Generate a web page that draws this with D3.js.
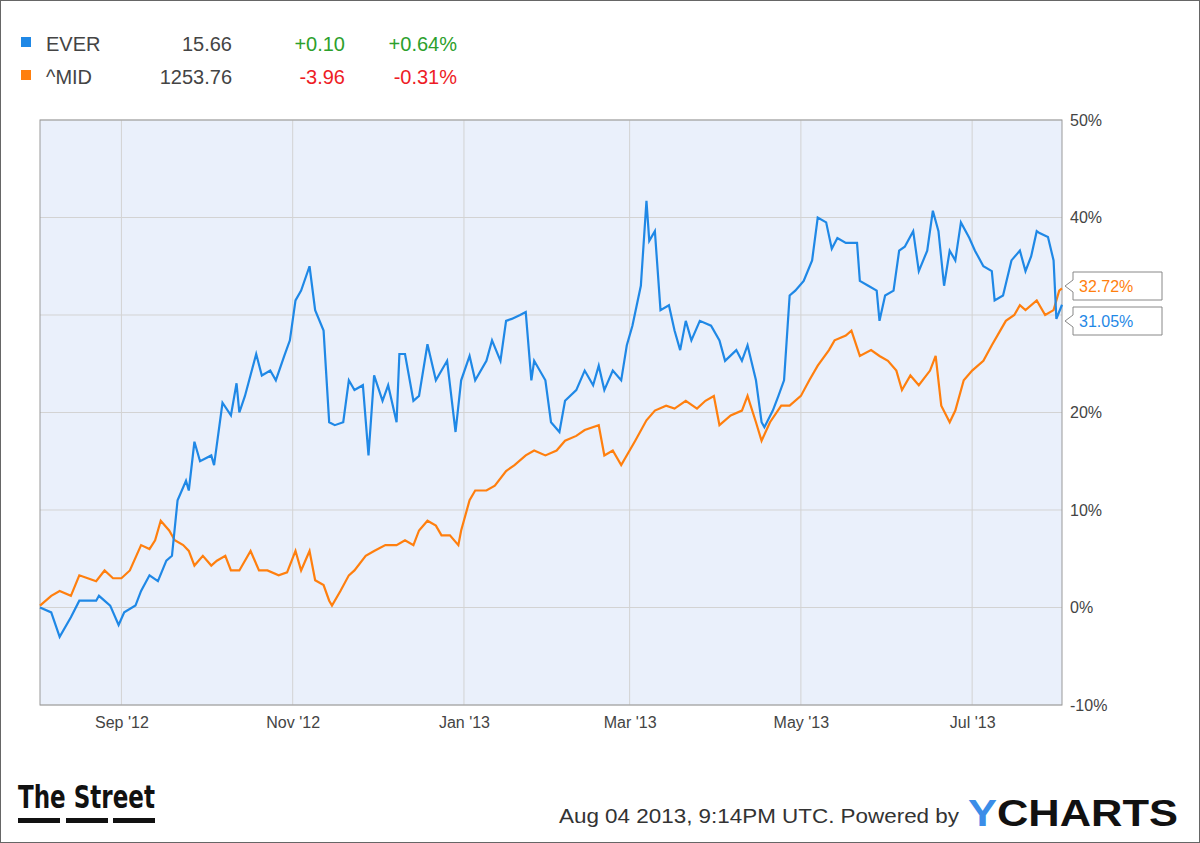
<!DOCTYPE html>
<html><head><meta charset="utf-8">
<script src="https://cdn.jsdelivr.net/npm/d3@7"></script>
<style>body{margin:0;background:#fff}svg{display:block}text{font-family:"Liberation Sans",Arial,sans-serif}</style>
</head><body><svg id="c" width="1200" height="843"></svg>
<script>
const startDate = "2012-08-03";
const everDays = [0,4,7,11,14,20,21,25,28,30,34,36,39,42,45,47,49,52,53,55,57,61,62,65,68,70,71,73,77,79,82,84,87,89,91,93,96,98,101,103,105,108,110,112,115,117,119,122,124,127,128,130,133,135,138,141,143,145,148,150,153,155,159,161,164,166,168,171,173,175,176,180,182,185,187,191,194,197,199,201,204,207,209,211,214,216,217,219,221,224,226,228,230,232,235,239,242,244,248,250,252,255,257,258,261,263,265,267,269,272,275,277,280,282,284,287,291,292,295,298,299,301,304,306,308,311,313,316,318,320,322,324,326,328,331,333,336,339,340,343,346,349,351,353,355,356,359,361,362,364];
const everVals = [0,-0.5,-3,-1,0.7,0.7,1.2,0.2,-1.8,-0.5,0.2,1.7,3.3,2.7,4.8,5.3,11,13,12,17,15,15.6,14.6,21,19.7,23,20,21.7,26,23.8,24.3,23.3,25.8,27.4,31.5,32.5,35,30.5,28.4,19,18.7,19,23.3,22.3,22.8,15.6,23.8,21.2,22.8,19,26,26,21.2,21.7,27,23.3,24.3,25.3,18,23.3,25.8,23.3,25.3,27.4,25.3,29.4,29.6,30,30.3,23.3,25.3,23.3,19,18,21.2,22.3,24.3,22.8,24.8,22.3,24.3,23.3,26.9,28.9,33,41.7,37.6,38.6,30.5,31,28.4,26.4,29.4,27.4,29.4,28.9,27.4,25.3,26.4,25.3,26.9,23.3,19,18.5,20.2,21.7,23.3,32,32.5,33.5,35.6,40,39.5,36.8,37.9,37.4,37.4,33.5,33,32.5,29.4,32,32.5,36.6,37,38.6,34.5,36.6,40.7,38.6,33,36.6,35.6,39.5,37.9,36.6,35,34.5,31.5,32,35.6,36.6,34.5,36,38.6,38.4,38,35.6,29.6,31.05];
const midDays = [0,4,7,11,14,17,20,23,26,29,32,36,39,41,43,46,48,51,53,55,58,61,63,66,68,71,75,78,81,85,88,91,93,96,98,101,103,104,107,110,112,116,119,123,127,130,133,135,138,141,143,146,149,150,153,155,159,162,166,169,173,176,180,184,187,191,194,199,201,204,207,210,212,216,219,223,226,230,234,237,240,242,246,250,252,255,257,260,264,267,271,274,277,281,283,287,289,292,296,299,302,305,307,310,313,317,319,321,324,326,329,332,336,339,342,344,347,349,351,355,358,361,363,364];
const midVals = [0.2,1.2,1.7,1.2,3.3,3,2.7,3.8,3,3,3.8,6.4,6,6.9,8.9,7.9,6.9,6.4,5.8,4.3,5.3,4.3,4.8,5.3,3.8,3.8,5.8,3.8,3.8,3.3,3.6,5.8,3.8,5.8,2.8,2.3,0.7,0.2,1.7,3.3,3.8,5.3,5.8,6.4,6.4,6.9,6.4,7.9,8.9,8.4,7.4,7.4,6.4,7.9,11,12,12,12.5,14,14.6,15.6,16.1,15.6,16.1,17.1,17.6,18.2,18.7,15.6,16.1,14.6,16.1,17.1,19.2,20.2,20.7,20.4,21.2,20.4,21.2,21.7,18.7,19.7,20.2,21.7,19,17.1,19,20.7,20.7,21.7,23.3,24.8,26.4,27.4,27.9,28.4,25.8,26.4,25.8,25.3,24.3,22.3,23.8,22.8,24.3,25.8,20.7,19,20.2,23.3,24.3,25.3,26.9,28.4,29.4,30,31,30.5,31.5,30,30.5,32.5,32.72];
const yTicks = [-10,0,10,20,30,40,50];
const monthTicks = ["2012-09-01","2012-11-01","2013-01-01","2013-03-01","2013-05-01","2013-07-01"];
const legendRows = [["EVER","15.66","+0.10","+0.64%"],["^MID","1253.76","-3.96","-0.31%"]];
const lastLabels = ["32.72%","31.05%"];

const svg = d3.select("#c");
const BLUE="#1f88e6", ORANGE="#ff7f0e";
const p = d3.timeParse("%Y-%m-%d");
const t0 = p(startDate);
const toDate = d => d3.timeDay.offset(t0, d);
const L=40,R=1062,T=120,B=705;
const x = d3.scaleTime().domain([t0, toDate(364)]).range([L,R]);
const y = d3.scaleLinear().domain([-10,50]).range([B,T]);

svg.append("rect").attr("x",0.5).attr("y",0.5).attr("width",1199).attr("height",842).attr("fill","#fff").attr("stroke","#666");
svg.append("rect").attr("x",L).attr("y",T).attr("width",R-L).attr("height",B-T).attr("fill","#eaf0fb");
const g = svg.append("g");
g.selectAll(".hg").data(yTicks).join("line").attr("x1",L).attr("x2",R).attr("y1",d=>y(d)).attr("y2",d=>y(d)).attr("stroke","#d3d3d3");
g.selectAll(".vg").data(monthTicks).join("line").attr("x1",d=>x(p(d))).attr("x2",d=>x(p(d))).attr("y1",T).attr("y2",B).attr("stroke","#d3d3d3");
svg.append("rect").attr("x",L).attr("y",T).attr("width",R-L).attr("height",B-T).attr("fill","none").attr("stroke","#999");

const xa = svg.append("g").attr("transform",`translate(0,${B})`).call(d3.axisBottom(x).tickValues(monthTicks.map(p)).tickFormat(d3.timeFormat("%b '%y")).tickSize(0).tickPadding(12));
xa.select(".domain").remove();
xa.selectAll("text").attr("font-size",16).attr("fill","#444");
// 30% label is covered by the end-value callouts in the reference
const ya = svg.append("g").attr("transform",`translate(${R},0)`).call(d3.axisRight(y).tickValues(yTicks.filter(d=>d!==30)).tickFormat(d=>d+"%").tickSize(0).tickPadding(8));
ya.select(".domain").remove();
ya.selectAll("text").attr("font-size",16).attr("fill","#444");

const line = d3.line().x(d=>x(toDate(d[0]))).y(d=>y(d[1]));
svg.append("path").datum(midDays.map((d,i)=>[d,midVals[i]])).attr("d",line).attr("fill","none").attr("stroke",ORANGE).attr("stroke-width",2.2);
svg.append("path").datum(everDays.map((d,i)=>[d,everVals[i]])).attr("d",line).attr("fill","none").attr("stroke",BLUE).attr("stroke-width",2.2);

[[lastLabels[0],ORANGE,286],[lastLabels[1],BLUE,321]].forEach(([t,c,cy])=>{
  const bx=1073,bw=89,bh=28;
  svg.append("path").attr("d",`M${bx},${cy-bh/2} H${bx+bw} V${cy+bh/2} H${bx} V${cy+6} L${bx-8},${cy} L${bx},${cy-6} Z`).attr("fill","#fff").attr("stroke","#888");
  svg.append("text").attr("x",bx+6).attr("y",cy+6).attr("font-size",16).attr("fill",c).text(t);
});

const cols=[BLUE,ORANGE];
legendRows.forEach((r,i)=>{
  const yy=44+i*33;
  svg.append("rect").attr("x",21).attr("y",yy-7).attr("width",10).attr("height",10).attr("fill",cols[i]);
  svg.append("text").attr("x",46).attr("y",yy+7).attr("font-size",20).attr("fill","#444").text(r[0]);
  svg.append("text").attr("x",232).attr("y",yy+7).attr("font-size",20).attr("fill","#444").attr("text-anchor","end").text(r[1]);
  const cc = r[2][0]==="+"?"#2ca02c":"#ee1c25";
  svg.append("text").attr("x",345).attr("y",yy+7).attr("font-size",20).attr("fill",cc).attr("text-anchor","end").text(r[2]);
  svg.append("text").attr("x",457).attr("y",yy+7).attr("font-size",20).attr("fill",cc).attr("text-anchor","end").text(r[3]);
});

svg.append("text").attr("x",18).attr("y",808).attr("font-size",32).attr("font-weight","bold").attr("fill","#111").attr("textLength",137).attr("lengthAdjust","spacingAndGlyphs").style("font-family","'Liberation Sans Narrow','DejaVu Sans Condensed',sans-serif").text("The Street");
[18,66,113].forEach(xx=>svg.append("rect").attr("x",xx).attr("y",818).attr("width",42).attr("height",5).attr("fill","#111"));
svg.append("text").attr("x",559).attr("y",823).attr("font-size",20).attr("fill","#333").attr("textLength",400).attr("lengthAdjust","spacingAndGlyphs").style("font-family","'Liberation Sans Narrow',sans-serif").text("Aug 04 2013, 9:14PM UTC.  Powered by");
const yc = svg.append("text").attr("x",968).attr("y",826).attr("font-size",36).attr("font-weight","bold").attr("textLength",210).attr("lengthAdjust","spacingAndGlyphs");
yc.append("tspan").attr("fill","#3b8de8").text("Y");
yc.append("tspan").attr("fill","#111").text("CHARTS");
</script></body></html>
